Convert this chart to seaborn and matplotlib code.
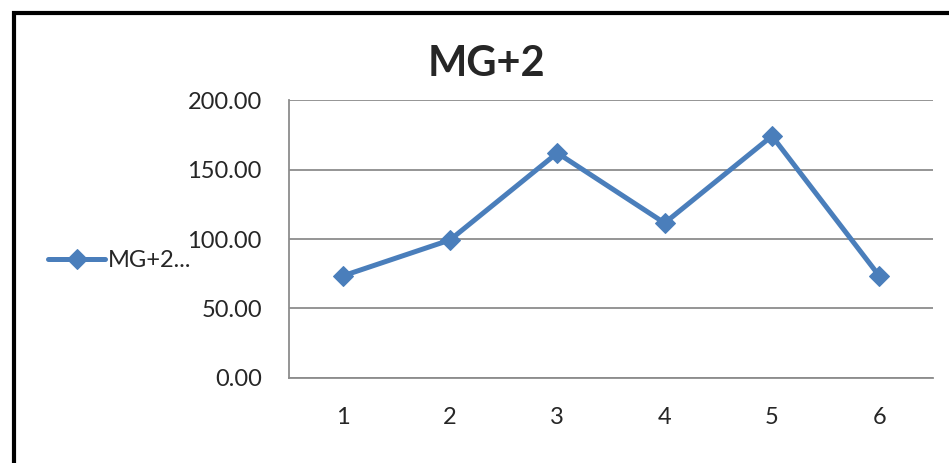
import numpy as np
import pandas as pd
import seaborn as sns
import matplotlib.pyplot as plt
from matplotlib.patches import Rectangle
from matplotlib.ticker import FixedLocator

# 数据
points = [1, 2, 3, 4, 5, 6]
mg2_values = [73.4, 99.3, 161.9, 111.5, 174.1, 73.4]
series_label = 'MG+2...'
chart_title = 'MG+2'

sns.set_style('white')
plt.rcParams['font.family'] = ['Lato', 'DejaVu Sans']

df = pd.DataFrame({'x': points, 'y': mg2_values})

fig = plt.figure(figsize=(9.49, 4.63), dpi=100)
ax = fig.add_axes([0.3045, 0.1836, 0.6786, 0.6004])

blue = '#4a7ebb'
grey = '#8c8c8c'
sns.lineplot(data=df, x='x', y='y', ax=ax, color=blue, linewidth=3.6,
             marker='D', markersize=10, markeredgecolor=blue, label=series_label)

ax.set_xlim(0.5, 6.5)
ax.set_ylim(0, 200)
ax.set_yticks([0, 50, 100, 150, 200])
ax.set_yticklabels(['%.2f' % v for v in [0, 50, 100, 150, 200]], fontsize=17)
ax.set_xticks(points)
ax.set_xticklabels([str(p) for p in points], fontsize=17)
ax.xaxis.set_minor_locator(FixedLocator(np.arange(0.5, 7.0, 1.0)))
ax.tick_params(axis='x', which='major', length=0, pad=21)
ax.tick_params(axis='x', which='minor', length=5, width=1.3, color=grey, direction='out')
ax.tick_params(axis='y', length=4.5, width=1.3, color=grey, direction='out', pad=15)
ax.grid(axis='y', color=grey, linewidth=1.3)
ax.set_axisbelow(True)
for s in ['top', 'right']:
    ax.spines[s].set_visible(False)
for s in ['left', 'bottom']:
    ax.spines[s].set_color(grey)
    ax.spines[s].set_linewidth(1.3)
ax.set_xlabel('')
ax.set_ylabel('')

# 图例放到左边
ax.get_legend().remove()
h, l = ax.get_legend_handles_labels()
fig.legend(h, l, loc='center left', bbox_to_anchor=(0.051, 0.437), frameon=False,
           fontsize=17, handlelength=2.4, handletextpad=0.12, borderpad=0, borderaxespad=0)

fig.text(0.513, 0.862, chart_title, ha='center', va='center', fontsize=30, fontweight='bold')

# 外边框（只露出左边和上边）
fig.patches.append(Rectangle((0.0147, -0.2), 1.2, 1.171, transform=fig.transFigure,
                             fill=False, edgecolor='black', linewidth=3.0, zorder=10))

plt.savefig('out.png', dpi=100)
